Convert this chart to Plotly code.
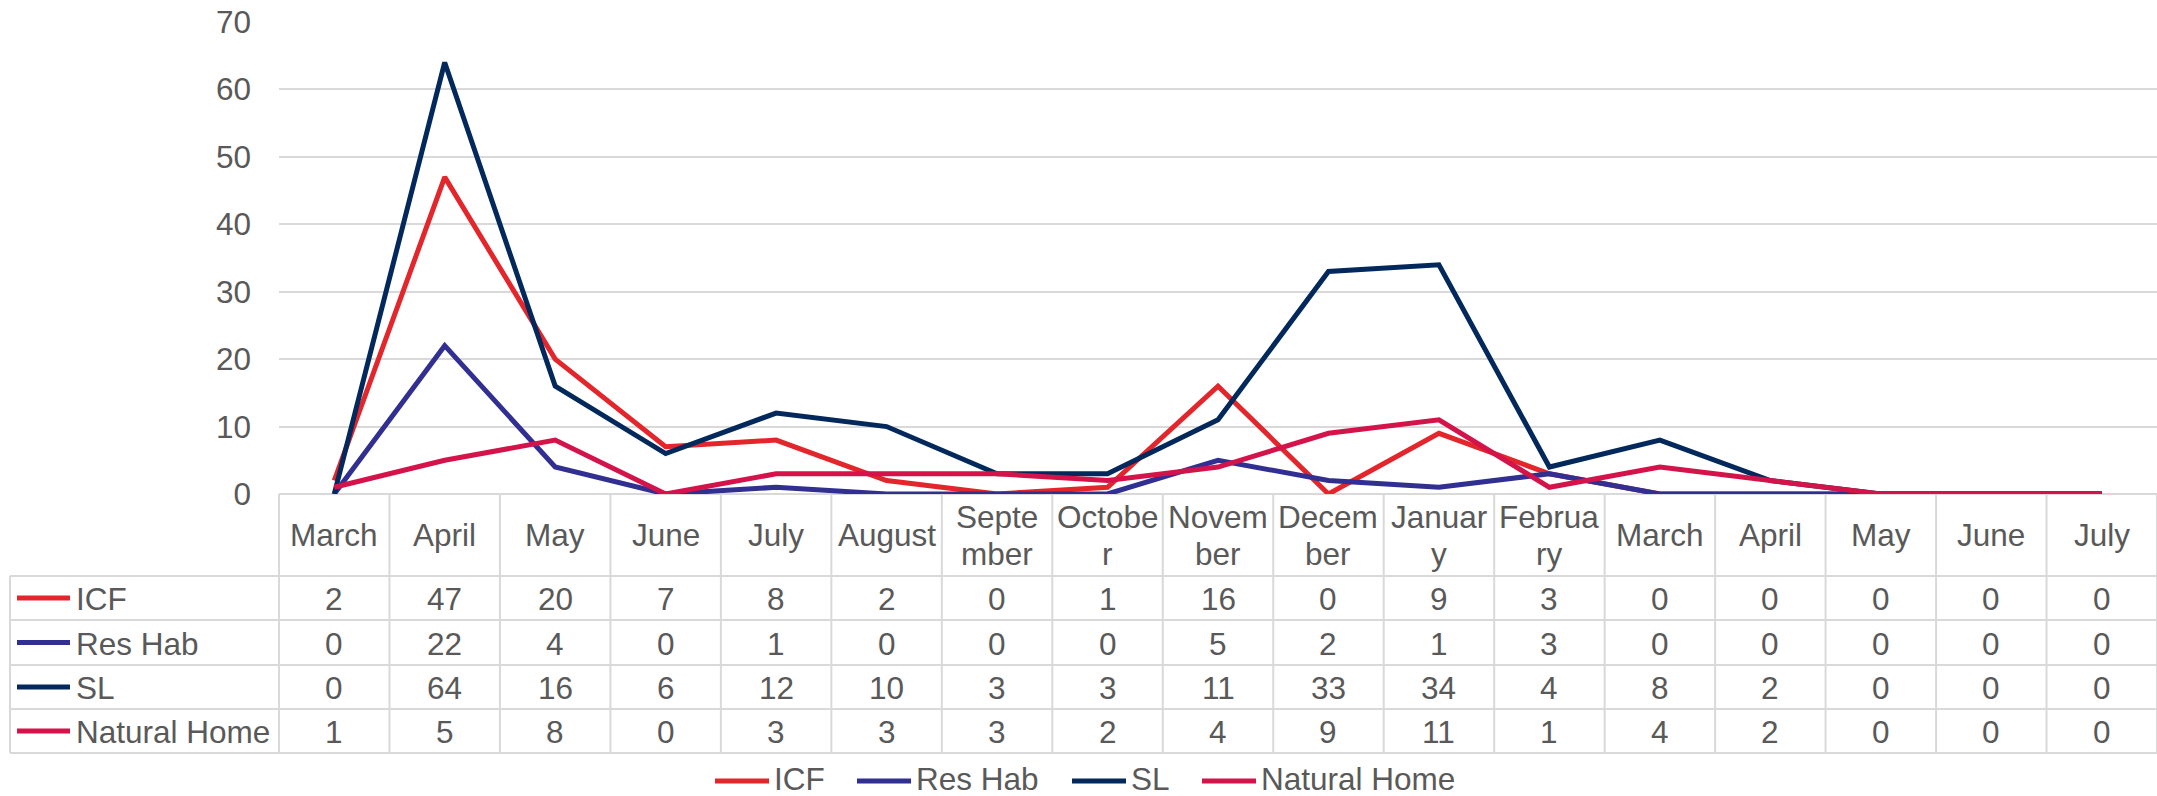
import plotly.graph_objects as go

# ---------------- data ----------------
months = ["March", "April", "May", "June", "July", "August", "September", "October",
          "November", "December", "January", "February", "March", "April", "May", "June", "July"]
# header labels as Excel wraps them inside the narrow table cells
header_labels = ["March", "April", "May", "June", "July", "August", "Septe\nmber", "Octobe\nr",
                 "Novem\nber", "Decem\nber", "Januar\ny", "Februa\nry", "March", "April", "May", "June", "July"]

series_names = ["ICF", "Res Hab", "SL", "Natural Home"]
icf = [2, 47, 20, 7, 8, 2, 0, 1, 16, 0, 9, 3, 0, 0, 0, 0, 0]
res_hab = [0, 22, 4, 0, 1, 0, 0, 0, 5, 2, 1, 3, 0, 0, 0, 0, 0]
sl = [0, 64, 16, 6, 12, 10, 3, 3, 11, 33, 34, 4, 8, 2, 0, 0, 0]
natural_home = [1, 5, 8, 0, 3, 3, 3, 2, 4, 9, 11, 1, 4, 2, 0, 0, 0]
series_values = [icf, res_hab, sl, natural_home]

y_ticks = [0, 10, 20, 30, 40, 50, 60, 70]

# ---------------- style ----------------
colors = ["#E3262B", "#312F92", "#03295C", "#D4134A"]
TXT = "#595959"
GRID = "#D9D9D9"
FONT = "Liberation Sans, Arial, sans-serif"
FS = 31.5

W, H = 2157, 796
ML, MR, MT, MB = 279, 0, 22, 302
PW, PH = W - ML - MR, H - MT - MB
Y0 = H - MB  # pixel row of the x axis

n = len(months)
xr = [-0.5, n - 0.5]


def px_x(p):
    return (p - ML) / PW


def px_y(p):
    return (Y0 - p) / PH


def data_x(v):
    return (v - xr[0]) / (xr[1] - xr[0])


fig = go.Figure()
xs = list(range(n))
for name, vals, c in zip(series_names, series_values, colors):
    fig.add_trace(go.Scatter(x=xs, y=vals, mode="lines", name=name,
                             line=dict(color=c, width=5), showlegend=False,
                             hovertemplate="%{y}<extra>" + name + "</extra>"))

shapes = []
annotations = []

# table geometry (pixel rows)
row_edges = [494, 576, 620, 665, 709, 753]
left_px = 10

# horizontal lines
shapes.append(dict(type="line", xref="paper", yref="paper", x0=0, x1=1, layer="below",
                   y0=px_y(row_edges[0]), y1=px_y(row_edges[0]), line=dict(color=GRID, width=2)))
for r in row_edges[1:]:
    shapes.append(dict(type="line", xref="paper", yref="paper", x0=px_x(left_px), x1=1,
                       y0=px_y(r), y1=px_y(r), line=dict(color=GRID, width=2)))
# vertical lines at category boundaries
for i in range(n + 1):
    xb = data_x(i - 0.5)
    shapes.append(dict(type="line", xref="paper", yref="paper", x0=xb, x1=xb,
                       y0=px_y(row_edges[0]), y1=px_y(row_edges[-1]), line=dict(color=GRID, width=2)))
shapes.append(dict(type="line", xref="paper", yref="paper", x0=px_x(left_px), x1=px_x(left_px),
                   y0=px_y(row_edges[1]), y1=px_y(row_edges[-1]), line=dict(color=GRID, width=2)))

# header labels
hc = (row_edges[0] + row_edges[1]) / 2
for i, lab in enumerate(header_labels):
    parts = lab.split("\n")
    if len(parts) == 1:
        ys = [hc]
    else:
        ys = [hc - 18.5, hc + 18.5]
    for part, yy in zip(parts, ys):
        annotations.append(dict(x=i, xref="x", y=px_y(yy), yref="paper", text=part, showarrow=False,
                                xanchor="center", yanchor="middle", font=dict(size=FS, color=TXT, family=FONT)))

# data rows
for r, (name, vals, c) in enumerate(zip(series_names, series_values, colors)):
    yc = (row_edges[r + 1] + row_edges[r + 2]) / 2
    shapes.append(dict(type="line", xref="paper", yref="paper", x0=px_x(17), x1=px_x(70),
                       y0=px_y(yc), y1=px_y(yc), line=dict(color=c, width=5)))
    annotations.append(dict(x=px_x(74), xref="paper", y=px_y(yc + 1), yref="paper", text=name,
                            showarrow=False, xanchor="left", yanchor="middle",
                            font=dict(size=FS, color=TXT, family=FONT)))
    for i, v in enumerate(vals):
        annotations.append(dict(x=i, xref="x", y=px_y(yc + 1), yref="paper", text=str(v), showarrow=False,
                                xanchor="center", yanchor="middle", font=dict(size=FS, color=TXT, family=FONT)))

# bottom legend
leg_y = 779
leg_x = [714, 856, 1071, 1201]
for name, c, lx in zip(series_names, colors, leg_x):
    shapes.append(dict(type="line", xref="paper", yref="paper", x0=px_x(lx + 1), x1=px_x(lx + 55),
                       y0=px_y(leg_y + 2), y1=px_y(leg_y + 2), line=dict(color=c, width=5)))
    annotations.append(dict(x=px_x(lx + 58), xref="paper", y=px_y(leg_y), yref="paper", text=name,
                            showarrow=False, xanchor="left", yanchor="middle",
                            font=dict(size=FS, color=TXT, family=FONT)))

fig.update_layout(
    width=W, height=H,
    margin=dict(l=ML, r=MR, t=MT, b=MB, pad=0),
    paper_bgcolor="white", plot_bgcolor="white",
    font=dict(family=FONT, size=FS, color=TXT),
    showlegend=False,
    xaxis=dict(range=xr, showticklabels=False, showgrid=False, zeroline=False, showline=False,
               ticks="", fixedrange=True),
    yaxis=dict(range=[0, 70], tickvals=y_ticks, showgrid=True, gridcolor=GRID, gridwidth=2,
               zeroline=False, showline=False, ticks="", ticklabelstandoff=27,
               tickfont=dict(size=FS, color=TXT, family=FONT)),
    shapes=shapes,
    annotations=annotations,
)

fig.write_html("out.html", config={"displayModeBar": False},
               post_script="document.body.style.margin='0';document.body.style.overflow='hidden';")
